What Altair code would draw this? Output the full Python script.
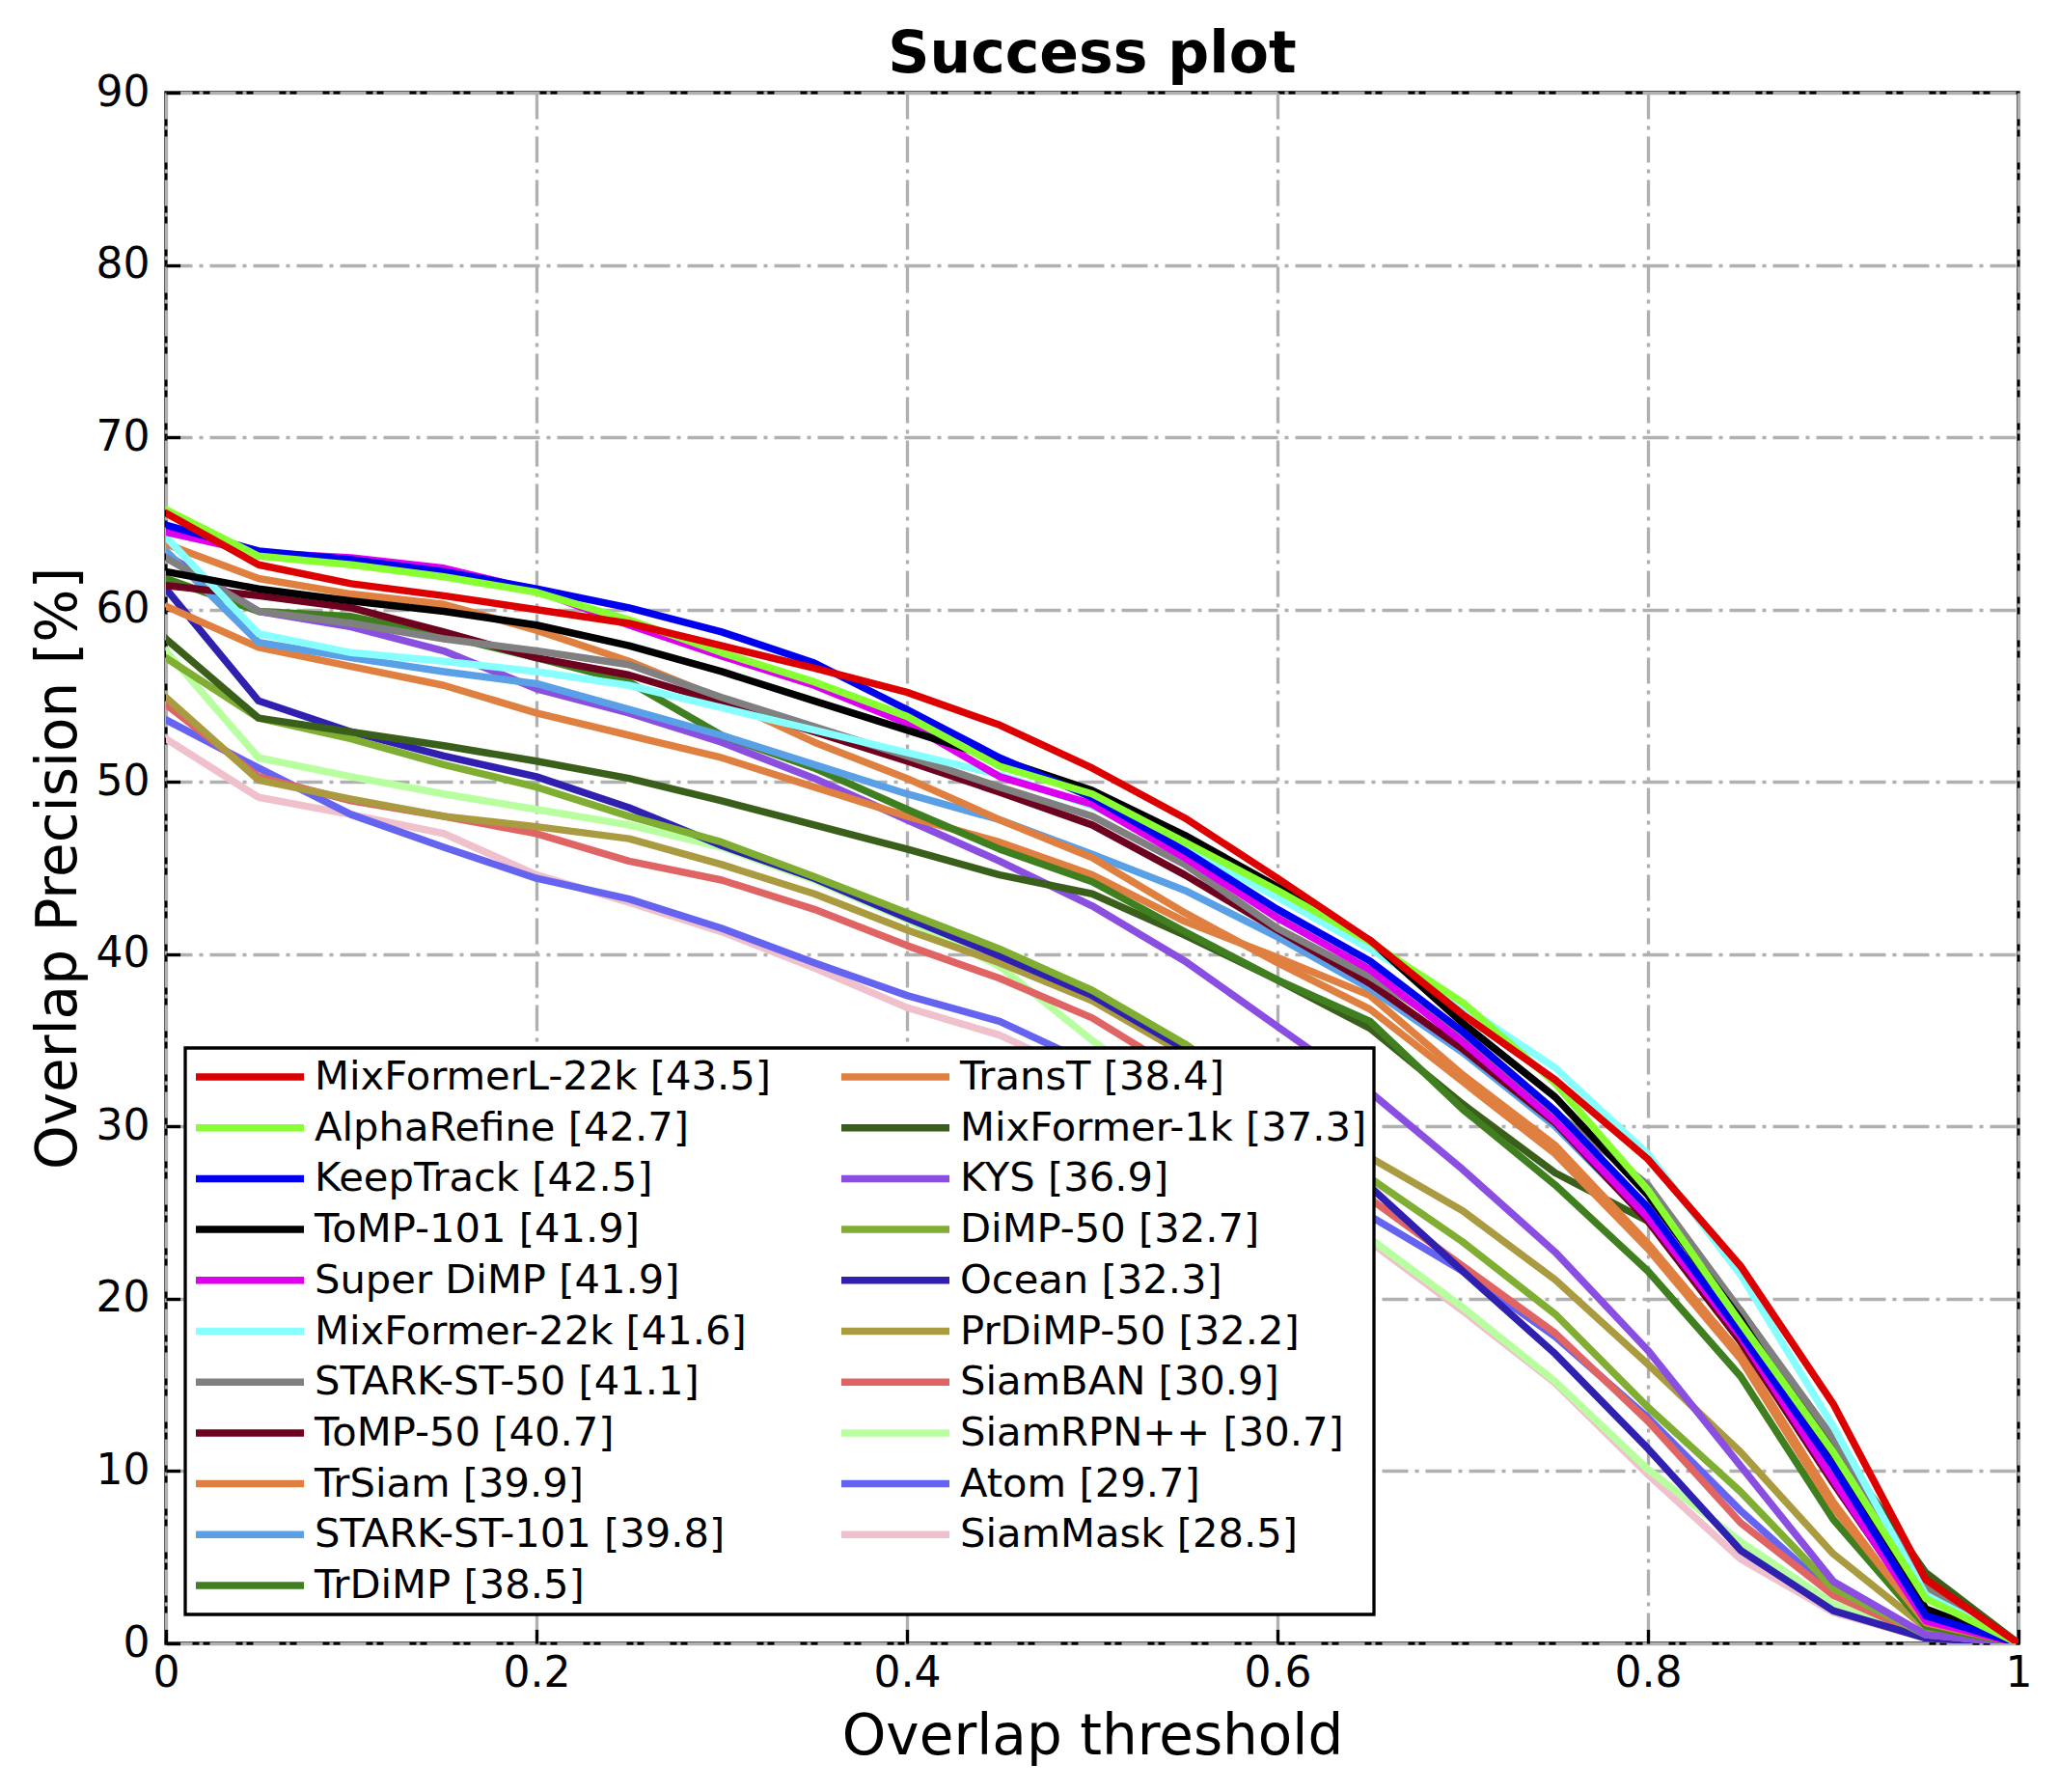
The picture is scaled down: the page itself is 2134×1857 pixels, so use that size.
import altair as alt
import pandas as pd

thresholds = [0.0, 0.05, 0.1, 0.15, 0.2, 0.25, 0.3, 0.35, 0.4, 0.45, 0.5,
              0.55, 0.6, 0.65, 0.7, 0.75, 0.8, 0.85, 0.9, 0.95, 1.0]

names = [
    "MixFormerL-22k [43.5]", "AlphaRefine [42.7]", "KeepTrack [42.5]", "ToMP-101 [41.9]",
    "Super DiMP [41.9]", "MixFormer-22k [41.6]", "STARK-ST-50 [41.1]", "ToMP-50 [40.7]",
    "TrSiam [39.9]", "STARK-ST-101 [39.8]", "TrDiMP [38.5]",
    "TransT [38.4]", "MixFormer-1k [37.3]", "KYS [36.9]", "DiMP-50 [32.7]", "Ocean [32.3]",
    "PrDiMP-50 [32.2]", "SiamBAN [30.9]", "SiamRPN++ [30.7]", "Atom [29.7]", "SiamMask [28.5]",
]

colors = [
    "#dd0000", "#88ff33", "#0000ee", "#000000",
    "#dd00ee", "#88ffff", "#808080", "#6e0020",
    "#e08040", "#5aa0e6", "#3f7f1f",
    "#e08040", "#3a5f1a", "#8a4ee0", "#7fae32", "#3020b0",
    "#aa9a40", "#e06464", "#b8ffa0", "#6464f0", "#f0c0cc",
]

mixformerl_22k = [65.6, 62.6, 61.5, 60.8, 60.0, 59.2, 57.9, 56.6, 55.2, 53.3, 50.8, 47.9, 44.4, 40.8, 36.5, 32.7, 28.1, 21.9, 13.9, 3.7, 0.0]
alpharefine = [65.8, 63.1, 62.6, 61.9, 61.0, 59.4, 57.5, 55.8, 53.8, 50.9, 49.3, 46.5, 43.7, 40.7, 37.2, 32.5, 26.3, 18.6, 11.1, 2.6, 0.0]
keeptrack = [64.9, 63.4, 62.9, 62.2, 61.2, 60.1, 58.7, 56.9, 54.2, 51.4, 49.1, 46.0, 42.6, 39.6, 35.5, 30.9, 25.3, 18.0, 10.3, 1.6, 0.0]
tomp_101 = [62.2, 61.2, 60.5, 59.9, 59.1, 57.9, 56.4, 54.7, 53.0, 51.3, 49.5, 46.9, 43.9, 40.8, 36.0, 31.7, 26.0, 18.8, 10.5, 2.0, 0.0]
super_dimp = [64.5, 63.3, 63.0, 62.4, 61.1, 59.1, 57.3, 55.6, 53.4, 50.3, 48.7, 45.6, 42.1, 39.1, 34.9, 30.3, 24.7, 17.8, 9.5, 1.3, 0.0]
mixformer_22k = [64.2, 58.6, 57.5, 57.0, 56.4, 55.6, 54.3, 53.0, 51.7, 50.4, 48.6, 46.2, 43.3, 40.3, 37.0, 33.4, 28.4, 21.4, 12.6, 2.8, 0.0]
stark_st_50 = [63.0, 59.9, 59.2, 58.3, 57.6, 56.8, 54.9, 53.2, 51.5, 49.7, 48.0, 45.2, 41.5, 38.7, 35.3, 30.8, 26.6, 19.3, 11.9, 3.3, 0.0]
tomp_50 = [61.4, 60.8, 60.1, 58.7, 57.2, 56.2, 54.6, 52.9, 51.2, 49.4, 47.5, 44.6, 41.4, 38.3, 34.5, 30.2, 24.5, 17.5, 9.3, 1.5, 0.0]
trsiam = [63.8, 61.8, 60.9, 60.3, 58.8, 57.0, 54.8, 52.3, 50.2, 47.8, 45.6, 42.4, 39.5, 36.8, 32.6, 28.4, 22.9, 16.5, 7.9, 1.2, 0.0]
stark_st_101 = [63.4, 58.1, 57.2, 56.4, 55.7, 54.2, 52.7, 51.0, 49.3, 47.8, 45.8, 43.7, 41.0, 38.0, 34.3, 30.0, 24.6, 17.6, 9.6, 1.6, 0.0]
trdimp = [61.8, 59.9, 59.6, 58.5, 57.2, 55.8, 52.7, 50.8, 48.4, 46.1, 44.2, 41.3, 38.5, 36.1, 31.0, 26.6, 21.6, 15.5, 7.2, 1.0, 0.0]
transt = [60.2, 57.8, 56.7, 55.6, 54.0, 52.7, 51.4, 49.7, 48.0, 46.5, 44.6, 41.9, 39.8, 37.6, 33.0, 28.9, 23.2, 16.8, 8.2, 1.0, 0.0]
mixformer_1k = [58.3, 53.7, 52.9, 52.1, 51.2, 50.2, 48.9, 47.5, 46.1, 44.6, 43.5, 41.1, 38.5, 35.7, 31.3, 27.3, 24.5, 19.3, 11.7, 4.1, 0.0]
kys = [63.2, 59.9, 59.0, 57.6, 55.4, 54.0, 52.3, 50.2, 47.8, 45.4, 42.8, 39.6, 35.8, 32.0, 27.5, 22.7, 17.0, 10.3, 3.6, 0.5, 0.0]
dimp_50 = [57.2, 53.7, 52.5, 51.0, 49.7, 48.0, 46.5, 44.5, 42.4, 40.3, 37.9, 34.8, 31.0, 27.0, 23.3, 19.1, 13.7, 8.8, 3.2, 0.5, 0.0]
ocean = [61.2, 54.7, 52.9, 51.5, 50.3, 48.5, 46.3, 44.4, 42.1, 39.9, 37.6, 34.5, 30.5, 26.5, 21.6, 16.8, 11.3, 5.4, 1.9, 0.3, 0.0]
prdimp_50 = [54.9, 50.1, 49.0, 48.0, 47.4, 46.7, 45.2, 43.5, 41.4, 39.5, 37.3, 34.2, 31.3, 28.2, 25.1, 21.1, 16.2, 11.1, 5.2, 0.9, 0.0]
siamban = [54.5, 50.3, 48.9, 48.0, 47.0, 45.4, 44.3, 42.6, 40.5, 38.6, 36.3, 33.0, 29.5, 25.8, 21.9, 18.0, 12.9, 7.0, 2.8, 0.4, 0.0]
siamrpn_pp = [57.6, 51.4, 50.3, 49.3, 48.4, 47.5, 46.2, 44.3, 42.0, 39.3, 35.0, 31.0, 27.5, 23.5, 19.5, 15.2, 10.1, 5.9, 2.3, 0.4, 0.0]
atom = [53.6, 50.8, 48.1, 46.2, 44.4, 43.2, 41.5, 39.5, 37.6, 36.1, 33.6, 30.5, 27.5, 24.8, 21.6, 17.8, 13.1, 7.7, 2.9, 0.4, 0.0]
siammask = [52.5, 49.1, 48.1, 47.0, 44.6, 43.0, 41.3, 39.2, 36.9, 35.3, 32.8, 29.8, 26.8, 23.3, 19.3, 15.1, 9.8, 4.9, 1.8, 0.3, 0.0]

series_values = [
    mixformerl_22k, alpharefine, keeptrack, tomp_101, super_dimp, mixformer_22k,
    stark_st_50, tomp_50, trsiam, stark_st_101, trdimp, transt, mixformer_1k, kys,
    dimp_50, ocean, prdimp_50, siamban, siamrpn_pp, atom, siammask,
]

x_ticks = [0, 0.2, 0.4, 0.6, 0.8, 1]
y_ticks = [0, 10, 20, 30, 40, 50, 60, 70, 80, 90]

# draw the weakest first so the best tracker ends on top
rows = []
for name, vals in reversed(list(zip(names, series_values))):
    for t, v in zip(thresholds, vals):
        rows.append({"tracker": name, "threshold": t, "precision": v})
df = pd.DataFrame(rows)

W, H = 1920, 1607
FONT = "DejaVu Sans"
LW = 7.5

x_scale = alt.Scale(domain=[0, 1], nice=False, zero=False)
y_scale = alt.Scale(domain=[0, 90], nice=False, zero=False)

lines = alt.Chart(df).mark_line(
    strokeWidth=LW, strokeJoin="round", strokeCap="square", clip=True
).encode(
    x=alt.X("threshold:Q", scale=x_scale, axis=alt.Axis(
        values=x_ticks, format="~g", title="Overlap threshold",
        grid=True, ticks=False, domain=False, labelFlush=False,
        labelPadding=9, labelFontSize=44, labelFont=FONT, labelColor="black",
        titleFontSize=58, titleFont=FONT, titleFontWeight="normal", titleColor="black",
        titleX=W / 2, titleY=114, titleBaseline="alphabetic", titleAlign="center",
    )),
    y=alt.Y("precision:Q", scale=y_scale, axis=alt.Axis(
        values=y_ticks, format="d", title="Overlap Precision [%]",
        grid=True, ticks=False, domain=False, labelFlush=False,
        labelPadding=17, labelFontSize=44, labelFont=FONT, labelColor="black",
        titleFontSize=58, titleFont=FONT, titleFontWeight="normal", titleColor="black",
        titleAngle=270, titleX=-94, titleY=H / 2, titleBaseline="alphabetic",
        titleAlign="center",
    )),
    color=alt.Color("tracker:N", scale=alt.Scale(domain=names, range=colors),
                    legend=alt.Legend(
                        orient="none", legendX=20, legendY=990, columns=2,
                        direction="vertical",
                        symbolType="stroke", symbolSize=112 * 112, symbolStrokeWidth=LW,
                        clipHeight=46, rowPadding=6.7, columnPadding=69, labelOffset=7,
                        labelFontSize=41.67, labelFont=FONT, labelColor="black",
                        labelLimit=0, fillColor="white", strokeColor="black",
                        padding=7, title=None, symbolOpacity=1,
                    )),
)

ticks = alt.Chart(df).mark_point(opacity=0, size=1).encode(
    x=alt.X("threshold:Q", scale=x_scale, axis=alt.Axis(
        orient="top", offset=-H, values=x_ticks, labels=False, grid=False,
        domain=False, ticks=True, tickSize=14.6, tickWidth=3.3, tickColor="black",
        title=None,
    )),
    y=alt.Y("precision:Q", scale=y_scale, axis=alt.Axis(
        orient="right", offset=-W, values=y_ticks, labels=False, grid=False,
        domain=False, ticks=True, tickSize=14.6, tickWidth=3.3, tickColor="black",
        title=None,
    )),
)

chart = alt.layer(lines, ticks).resolve_axis(
    x="independent", y="independent"
).properties(
    width=W, height=H,
    autosize=alt.AutoSizeParams(type="none"),
    padding={"left": 164, "top": 88, "right": 26, "bottom": 140},
    background="white",
    title=alt.TitleParams("Success plot", fontSize=60, font=FONT, fontWeight="bold",
                          color="black", anchor="middle", baseline="alphabetic",
                          offset=2, dy=63),
).configure_view(
    stroke="black", strokeWidth=3.3
).configure_axis(
    gridColor="#b0b0b0", gridDash=[27, 7, 4, 7], gridWidth=3.3, gridOpacity=1
).configure_legend(
    strokeWidth=3.3
)

chart.save("out.html", embed_options={"renderer": "svg", "actions": False})
